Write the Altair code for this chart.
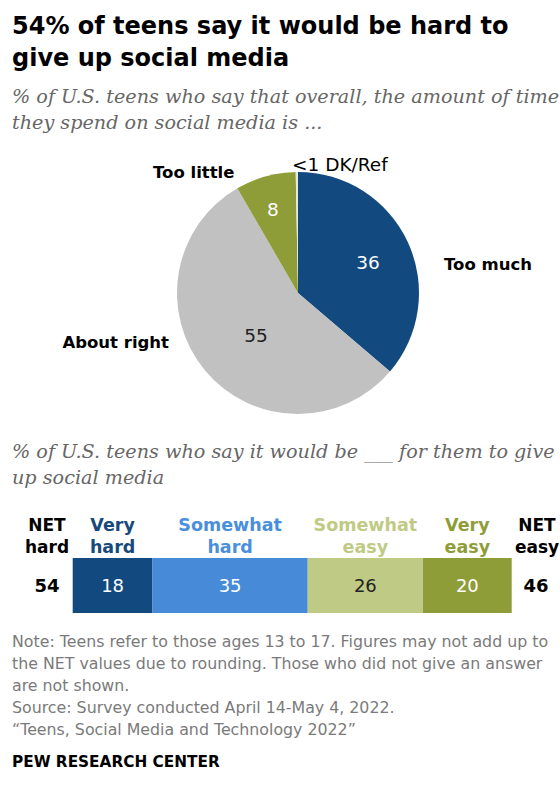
import altair as alt
import pandas as pd

# ---------------- data ----------------
title_lines = ["54% of teens say it would be hard to", "give up social media"]
sub1_lines = ["% of U.S. teens who say that overall, the amount of time",
              "they spend on social media is ..."]

pie_cats = ["Too much", "About right", "Too little", "DK/Ref"]
pie_values = [36, 55, 8, 0.3]
pie_value_labels = ["36", "55", "8"]
pie_cat_labels = ["Too much", "About right", "Too little", "<1 DK/Ref"]

sub2_lines = ["% of U.S. teens who say it would be ___ for them to give",
              "up social media"]

bar_cats = ["Very hard", "Somewhat hard", "Somewhat easy", "Very easy"]
bar_headers = ["Very\nhard", "Somewhat\nhard", "Somewhat\neasy", "Very\neasy"]
bar_values = [18, 35, 26, 20]
net_labels = ["NET\nhard", "NET\neasy"]
net_values = [54, 46]

note_lines = [
    "Note: Teens refer to those ages 13 to 17. Figures may not add up to",
    "the NET values due to rounding. Those who did not give an answer",
    "are not shown.",
    "Source: Survey conducted April 14-May 4, 2022.",
    "\u201cTeens, Social Media and Technology 2022\u201d",
]
credit = "PEW RESEARCH CENTER"

# ---------------- style ----------------
SANS = "DejaVu Sans"
SERIF = "DejaVu Serif"
pie_colors = ["#124a80", "#c1c1c1", "#8e9d37", "#e8e8e0"]
bar_colors = ["#124a80", "#478bd8", "#bfca85", "#8e9d37"]
bar_text_colors = ["#ffffff", "#ffffff", "#222222", "#ffffff"]
header_colors = ["#174a7c", "#4a8fdb", "#bfca85", "#8e9d37"]

W, H = 560, 789


def text_layer(txt, x, y, size, color="#000000", weight="normal", align="left",
               font=SANS, style="normal", baseline="alphabetic", line_height=None):
    kw = dict(font=font, fontSize=size, color=color, fontWeight=weight,
              align=align, baseline=baseline, fontStyle=style, lineBreak="\n")
    if line_height is not None:
        kw["lineHeight"] = line_height
    return alt.Chart(pd.DataFrame({"t": [txt]})).mark_text(**kw).encode(
        text="t:N", x=alt.value(x), y=alt.value(y))


layers = []

# title + subtitle
layers.append(text_layer("\n".join(title_lines), 12, 34, 24, "#000000", "bold",
                         line_height=32))
layers.append(text_layer("\n".join(sub1_lines), 12, 103, 19.2, "#666666",
                         font=SERIF, style="italic", line_height=26))

# pie
pie_df = pd.DataFrame({"cat": pie_cats, "value": pie_values,
                       "ord": list(range(len(pie_cats)))})
pie = alt.Chart(pie_df).mark_arc(radius=121).encode(
    theta=alt.Theta("value:Q", stack=True),
    color=alt.Color("cat:N", scale=alt.Scale(domain=pie_cats, range=pie_colors),
                    legend=None),
    order=alt.Order("ord:Q"),
    x=alt.value(298),
    y=alt.value(293),
)
layers.append(pie)

# pie value labels
layers.append(text_layer(pie_value_labels[0], 368, 263, 18.5, "#ffffff",
                         align="center", baseline="middle"))
layers.append(text_layer(pie_value_labels[1], 256, 336, 18.5, "#222222",
                         align="center", baseline="middle"))
layers.append(text_layer(pie_value_labels[2], 273, 210, 18.5, "#ffffff",
                         align="center", baseline="middle"))
# pie category labels
layers.append(text_layer(pie_cat_labels[0], 444, 265, 16.5, "#000000", "bold",
                         baseline="middle"))
layers.append(text_layer(pie_cat_labels[1], 169, 343, 16.5, "#000000", "bold",
                         align="right", baseline="middle"))
layers.append(text_layer(pie_cat_labels[2], 153, 173, 16.5, "#000000", "bold",
                         baseline="middle"))
layers.append(text_layer(pie_cat_labels[3], 292, 165, 18.5, "#000000",
                         baseline="middle"))

# second subtitle
layers.append(text_layer("\n".join(sub2_lines), 12, 458, 19.2, "#666666",
                         font=SERIF, style="italic", line_height=26))

# stacked bar
bar_df = pd.DataFrame({"resp": bar_cats, "value": bar_values,
                       "header": bar_headers, "ord": list(range(len(bar_cats)))})
xscale = alt.Scale(domain=[0, sum(bar_values)], range=[72.7, 511.7])
stacked = alt.Chart(bar_df).transform_stack(
    stack="value", groupby=[], as_=["x0", "x1"],
    sort=[alt.SortField("ord", order="ascending")]
).transform_calculate(mid="(datum.x0 + datum.x1) / 2")

bars = stacked.mark_bar().encode(
    x=alt.X("x0:Q", scale=xscale, axis=None),
    x2="x1:Q",
    y=alt.value(558),
    y2=alt.value(613),
    color=alt.Color("resp:N", scale=alt.Scale(domain=bar_cats, range=bar_colors),
                    legend=None),
)
bar_vals = stacked.mark_text(font=SANS, fontSize=18, baseline="middle").encode(
    x=alt.X("mid:Q", scale=xscale, axis=None),
    y=alt.value(587),
    text="value:Q",
    color=alt.Color("resp:N", scale=alt.Scale(domain=bar_cats, range=bar_text_colors),
                    legend=None),
)
bar_heads = stacked.mark_text(font=SANS, fontSize=17.5, fontWeight="bold",
                              baseline="alphabetic", lineBreak="\n",
                              lineHeight=22).encode(
    x=alt.X("mid:Q", scale=xscale, axis=None),
    y=alt.value(531),
    text="header:N",
    color=alt.Color("resp:N", scale=alt.Scale(domain=bar_cats, range=header_colors),
                    legend=None),
)
layers += [bars, bar_vals, bar_heads]

# NET labels
layers.append(text_layer(net_labels[0], 47, 531, 17, "#000000", "bold",
                         align="center", line_height=22))
layers.append(text_layer(net_labels[1], 537, 531, 17, "#000000", "bold",
                         align="center", line_height=22))
layers.append(text_layer(str(net_values[0]), 47, 587, 18, "#000000", "bold",
                         align="center", baseline="middle"))
layers.append(text_layer(str(net_values[1]), 536, 587, 18, "#000000", "bold",
                         align="center", baseline="middle"))

# notes
layers.append(text_layer("\n".join(note_lines), 12, 647, 15.8, "#7a7a7a",
                         line_height=22))
layers.append(text_layer(credit, 12, 767, 15.3, "#000000", "bold"))

chart = alt.layer(*layers).resolve_scale(color="independent").properties(
    width=W, height=H, padding=0, autosize=alt.AutoSizeParams(type="none"),
    background="#ffffff"
).configure_view(stroke=None)

chart.save("out.html", embed_options={"renderer": "svg", "actions": False})
